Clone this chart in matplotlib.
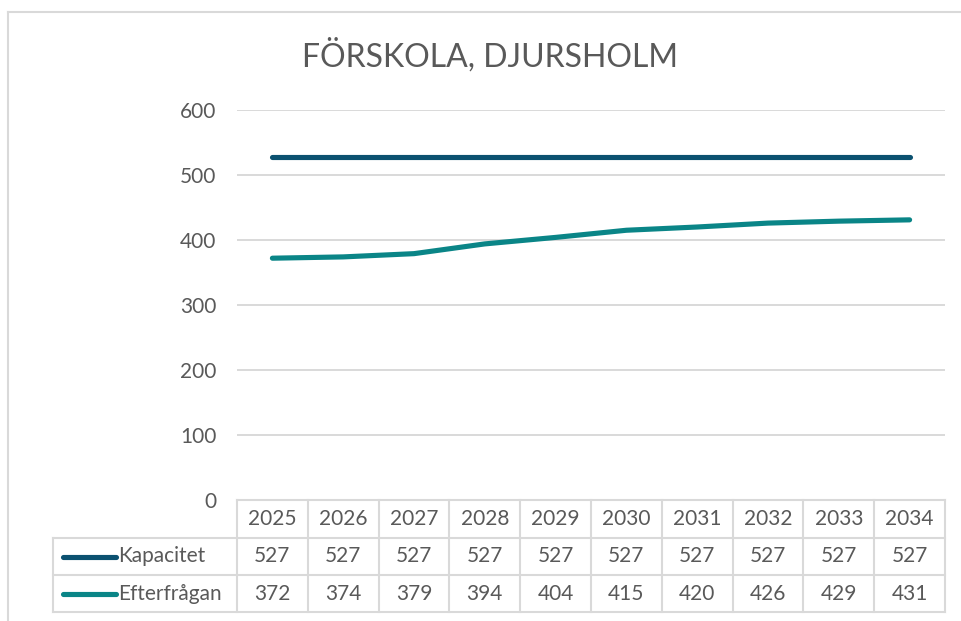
import matplotlib.pyplot as plt
from matplotlib.lines import Line2D

years = ['2025', '2026', '2027', '2028', '2029', '2030', '2031', '2032', '2033', '2034']
kapacitet = [527, 527, 527, 527, 527, 527, 527, 527, 527, 527]
efterfragan = [372, 374, 379, 394, 404, 415, 420, 426, 429, 431]
series_names = ['Kapacitet', 'Efterfrågan']
yticks = [0, 100, 200, 300, 400, 500, 600]

c_kap = '#0b5170'
c_eft = '#0a8587'
grey = '#595959'
grid = '#d9d9d9'
font = 'Lato'
fs = 15

W, H = 962, 621
fig = plt.figure(figsize=(W / 100, H / 100), dpi=100)

def fx(px):
    return px / W

def fy(py):
    return 1 - py / H

# gray chart frame
fig.add_artist(Line2D([fx(8), 1], [fy(12), fy(12)], color=grid, lw=1.5))
fig.add_artist(Line2D([fx(8), fx(8)], [fy(12), 0], color=grid, lw=1.5))

left, right, top, bottom = 237, 945, 110, 500
ax = fig.add_axes([fx(left), fy(bottom), fx(right - left), (bottom - top) / H])
x = list(range(len(years)))
ax.plot(x, kapacitet, color=c_kap, lw=3.7, solid_capstyle='round')
ax.plot(x, efterfragan, color=c_eft, lw=3.7, solid_capstyle='round')
ax.set_xlim(-0.5, len(years) - 0.5)
ax.set_ylim(0, 600)
ax.set_yticks(yticks)
ax.set_yticklabels([str(v) for v in yticks], fontsize=fs, color=grey, family=font)
ax.tick_params(axis='y', length=0, pad=15)
ax.set_xticks([])
for v in yticks[1:]:
    ax.axhline(v, color=grid, lw=1.4, zorder=0)
for s in ax.spines.values():
    s.set_visible(False)

fig.text(fx(490), fy(55), 'FÖRSKOLA, DJURSHOLM', ha='center', va='center',
         fontsize=23, color=grey, family=font)

# data table
tab = fig.add_axes([0, 0, 1, 1])
tab.set_xlim(0, W)
tab.set_ylim(H, 0)
tab.axis('off')
col_w = (right - left) / len(years)
rows_y = [500, 538, 575, 612]
tkw = dict(color=grid, lw=1.5)
tab.plot([left, right], [rows_y[0]] * 2, **tkw)
for yy in rows_y[1:]:
    tab.plot([53, right], [yy] * 2, **tkw)
tab.plot([53, 53], [rows_y[1], rows_y[3]], **tkw)
for i in range(len(years) + 1):
    xx = left + i * col_w
    tab.plot([xx, xx], [rows_y[0], rows_y[3]], **tkw)

for i, yr in enumerate(years):
    cx = left + (i + 0.5) * col_w
    tab.text(cx, (rows_y[0] + rows_y[1]) / 2, yr, ha='center', va='center',
             fontsize=fs, color=grey, family=font)
    tab.text(cx, (rows_y[1] + rows_y[2]) / 2, str(kapacitet[i]), ha='center', va='center',
             fontsize=fs, color=grey, family=font)
    tab.text(cx, (rows_y[2] + rows_y[3]) / 2, str(efterfragan[i]), ha='center', va='center',
             fontsize=fs, color=grey, family=font)

for r, (name, col) in enumerate(zip(series_names, [c_kap, c_eft])):
    cy = (rows_y[r + 1] + rows_y[r + 2]) / 2
    tab.plot([63, 116], [cy, cy], color=col, lw=3.7, solid_capstyle='round')
    tab.text(118, cy, name, ha='left', va='center', fontsize=fs, color=grey, family=font)

fig.savefig('out.png', dpi=100)
